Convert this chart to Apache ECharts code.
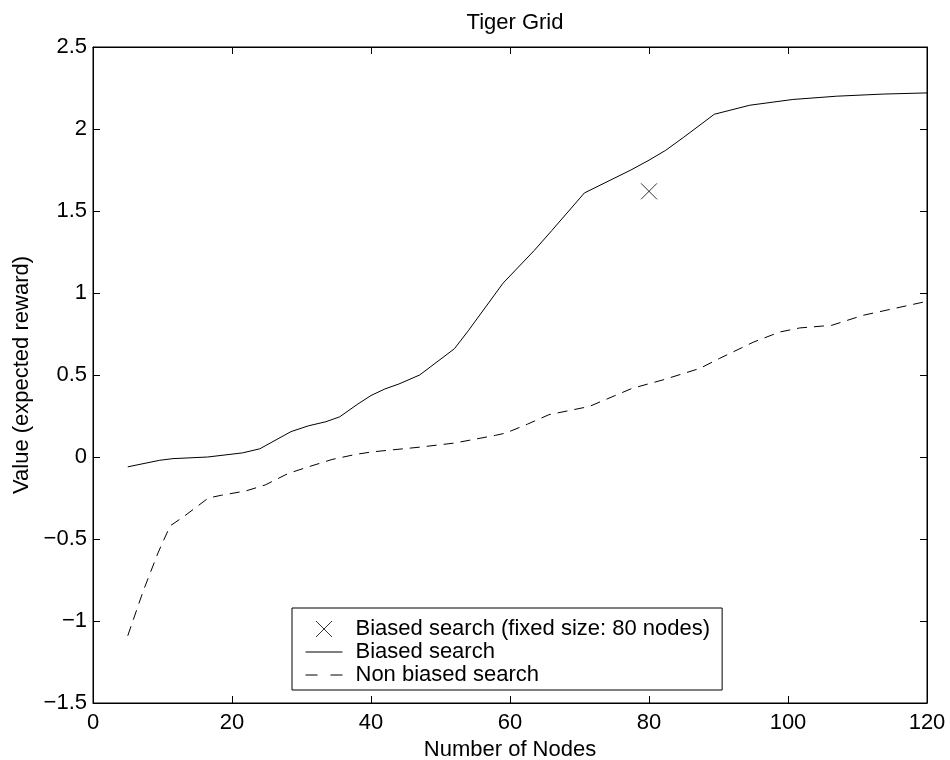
<!doctype html>
<html>
    <head>
        <meta charset="utf-8">
        <title>Tiger Grid</title>
        <style>
            html, body { margin: 0; padding: 0; background: #fff; }
            #main { width: 950px; height: 760px; }
        </style>
    </head>
    <body>
        <div id="main"></div>
        <script src="https://cdn.jsdelivr.net/npm/echarts@6/dist/echarts.min.js"></script>
        <script>
            var biasedNodes = [5, 9.6, 11.5, 16.5, 21.5, 24, 28.5, 31, 33.5, 35.5, 38, 40, 42, 44, 47, 52, 54, 59, 63.5, 66, 70.7, 77.4, 80, 82.4, 85, 89.4, 94.5, 100.7, 107, 113.7, 120];
            var biasedValues = [-0.06, -0.02, -0.01, 0, 0.025, 0.05, 0.155, 0.19, 0.215, 0.245, 0.32, 0.375, 0.415, 0.445, 0.5, 0.66, 0.77, 1.06, 1.26, 1.38, 1.61, 1.75, 1.81, 1.87, 1.95, 2.09, 2.145, 2.18, 2.2, 2.213, 2.22];

            var nonBiasedNodes = [5, 7.2, 9.4, 11.1, 13, 16.6, 18.5, 22, 24.8, 28.1, 31, 34.4, 37.7, 40.1, 47, 52, 57.9, 59.4, 62.5, 65.6, 71.4, 77.6, 82, 87.3, 90.1, 95, 98.8, 101.7, 106.3, 110.8, 119, 120];
            var nonBiasedValues = [-1.09, -0.82, -0.58, -0.42, -0.365, -0.25, -0.233, -0.207, -0.17, -0.1, -0.06, -0.015, 0.015, 0.031, 0.06, 0.085, 0.132, 0.146, 0.2, 0.258, 0.308, 0.419, 0.47, 0.54, 0.6, 0.7, 0.762, 0.787, 0.803, 0.864, 0.94, 0.95];

            var fixedNodes = [80];
            var fixedValues = [1.62];

            var seriesNames = ['Biased search (fixed size: 80 nodes)', 'Biased search', 'Non biased search'];

            var font = "'Liberation Sans', Arial, Helvetica, sans-serif";
            var crossIcon = 'path://M0,0L10,10M10,0L0,10';
            // legend icons share a 37x16 box so nothing gets stretched
            var crossLegend = 'path://M0,0L0,0M10.5,0L26.5,16M26.5,0L10.5,16M37,16L37,16';
            var solidLegend = 'path://M0,0L0,0M0,8L37,8M37,16L37,16';
            var dashLegend = 'path://M0,0L0,0M0,8L12,8M25,8L37,8M37,16L37,16';
            var strokeOnly = { color: 'transparent', borderColor: '#000', borderWidth: 1 };

            function pairs(xs, ys) {
                return xs.map(function (x, i) { return [x, ys[i]]; });
            }

            function minusLabel(v) {
                return String(v).replace('-', '\u2212');
            }

            var chart = echarts.init(document.getElementById('main'), null, {
                devicePixelRatio: 1
            });

            var tickStyle = { show: true, inside: true, length: 7, lineStyle: { color: '#000', width: 1 } };
            var lineAxis = { show: true, onZero: false, lineStyle: { color: '#000', width: 1 } };

            chart.setOption({
                animation: false,
                backgroundColor: '#fff',
                textStyle: { fontFamily: font, color: '#000' },
                title: {
                    text: 'Tiger Grid',
                    left: 510,
                    textAlign: 'center',
                    top: 7,
                    textStyle: { fontFamily: font, fontSize: 22, fontWeight: 'normal', color: '#000' }
                },
                grid: {
                    left: 93,
                    right: 23,
                    top: 47,
                    bottom: 57,
                    containLabel: false,
                    outerBoundsMode: 'none',
                    show: true,
                    borderColor: '#000',
                    borderWidth: 1
                },
                legend: {
                    orient: 'vertical',
                    left: 292,
                    top: 608,
                    padding: [10, 12, 4, 13],
                    itemGap: 1,
                    itemWidth: 37,
                    itemHeight: 16,
                    backgroundColor: '#fff',
                    borderColor: '#000',
                    borderWidth: 1,
                    borderRadius: 0,
                    textStyle: { fontFamily: font, fontSize: 22, color: '#000', lineHeight: 22, padding: [0, 0, 0, 8] },
                    data: [
                        { name: seriesNames[0], icon: crossLegend, itemStyle: strokeOnly },
                        { name: seriesNames[1], icon: solidLegend, itemStyle: strokeOnly },
                        { name: seriesNames[2], icon: dashLegend, itemStyle: strokeOnly }
                    ]
                },
                xAxis: [{
                    type: 'value',
                    min: 0,
                    max: 120,
                    interval: 20,
                    position: 'bottom',
                    name: 'Number of Nodes',
                    nameLocation: 'middle',
                    nameGap: 31,
                    nameTextStyle: { fontFamily: font, fontSize: 22, color: '#000' },
                    axisLine: lineAxis,
                    axisTick: tickStyle,
                    axisLabel: { fontFamily: font, fontSize: 22, color: '#000', margin: 9 },
                    splitLine: { show: false }
                }, {
                    type: 'value',
                    min: 0,
                    max: 120,
                    interval: 20,
                    position: 'top',
                    axisLine: lineAxis,
                    axisTick: tickStyle,
                    axisLabel: { show: false },
                    splitLine: { show: false }
                }],
                yAxis: [{
                    type: 'value',
                    min: -1.5,
                    max: 2.5,
                    interval: 0.5,
                    position: 'left',
                    name: 'Value (expected reward)',
                    nameLocation: 'middle',
                    nameGap: 54,
                    nameRotate: 90,
                    nameTextStyle: { fontFamily: font, fontSize: 22, color: '#000' },
                    axisLine: lineAxis,
                    axisTick: tickStyle,
                    axisLabel: { fontFamily: font, fontSize: 22, color: '#000', margin: 6, formatter: minusLabel },
                    splitLine: { show: false }
                }, {
                    type: 'value',
                    min: -1.5,
                    max: 2.5,
                    interval: 0.5,
                    position: 'right',
                    axisLine: lineAxis,
                    axisTick: tickStyle,
                    axisLabel: { show: false },
                    splitLine: { show: false }
                }],
                series: [{
                    name: seriesNames[0],
                    type: 'scatter',
                    symbol: crossIcon,
                    symbolSize: 16,
                    itemStyle: strokeOnly,
                    data: pairs(fixedNodes, fixedValues),
                    z: 3
                }, {
                    name: seriesNames[1],
                    type: 'line',
                    symbol: 'none',
                    showSymbol: false,
                    lineStyle: { color: '#000', width: 1, type: 'solid' },
                    itemStyle: { color: '#000' },
                    data: pairs(biasedNodes, biasedValues)
                }, {
                    name: seriesNames[2],
                    type: 'line',
                    symbol: 'none',
                    showSymbol: false,
                    lineStyle: { color: '#000', width: 1, type: [10, 7] },
                    itemStyle: { color: '#000' },
                    data: pairs(nonBiasedNodes, nonBiasedValues)
                }]
            });

            window.onresize = chart.resize;
        </script>
    </body>
</html>
